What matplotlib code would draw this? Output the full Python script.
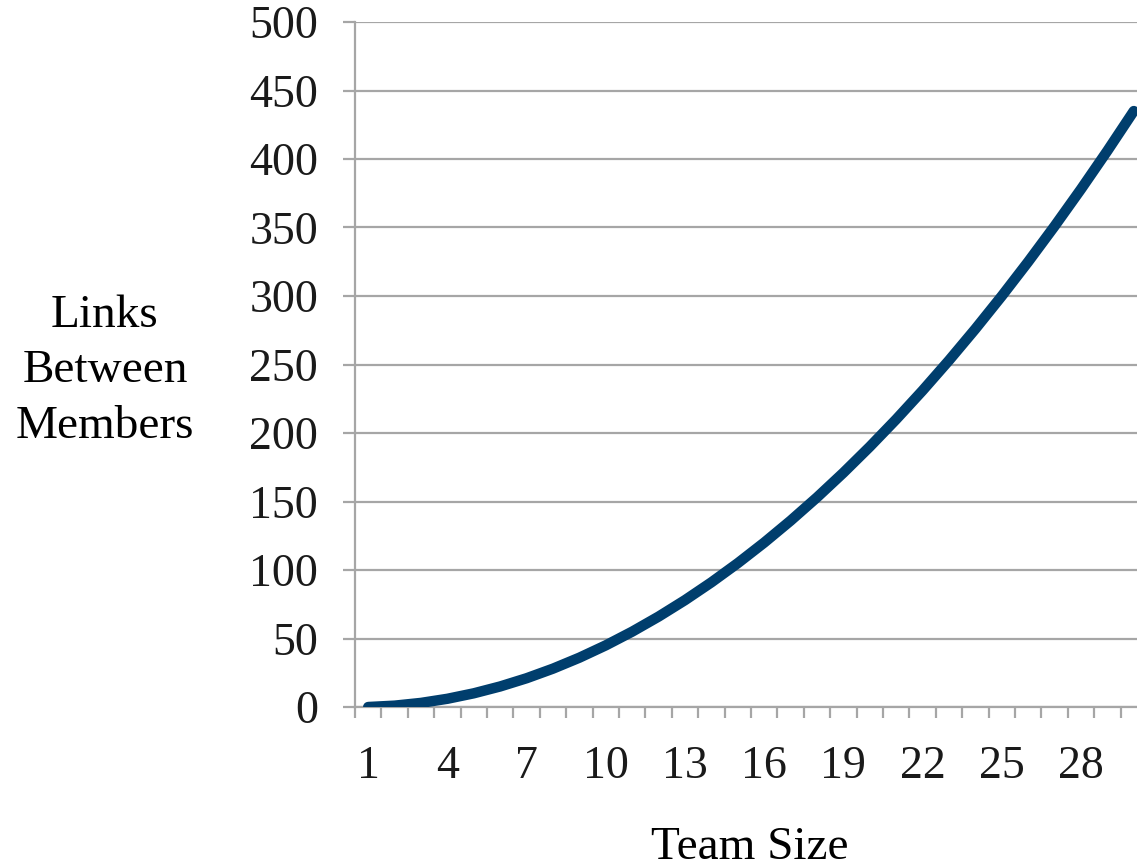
import matplotlib.pyplot as plt
from matplotlib.ticker import FixedLocator

# data
team_size = list(range(1, 31))
links = [0, 1, 3, 6, 10, 15, 21, 28, 36, 45,
         55, 66, 78, 91, 105, 120, 136, 153, 171, 190,
         210, 231, 253, 276, 300, 325, 351, 378, 406, 435]
x_labels = [1, 4, 7, 10, 13, 16, 19, 22, 25, 28]
y_ticks = [0, 50, 100, 150, 200, 250, 300, 350, 400, 450, 500]

plt.rcParams['font.family'] = ['Liberation Serif', 'DejaVu Serif']
GRID = '#a6a6a6'

fig = plt.figure(figsize=(11.37, 8.68), dpi=100)
ax = fig.add_axes([355 / 1137, 161 / 868, 792 / 1137, 685 / 868])

ax.plot(team_size, links, color='#003e6d', linewidth=7.5,
        solid_capstyle='round', solid_joinstyle='round', zorder=3)

ax.set_xlim(0.5, 30.5)
ax.set_ylim(0, 500)

# y axis
ax.set_yticks(y_ticks)
ax.set_yticklabels([str(v) for v in y_ticks], fontsize=33, color='#1a1a1a')
ax.yaxis.grid(True, color=GRID, linewidth=1.6)
ax.tick_params(axis='y', length=8.5, width=1.6, color=GRID, pad=18)

# x axis: ticks at category boundaries, labels at every third category
ax.xaxis.set_major_locator(FixedLocator([i + 0.5 for i in range(0, 31)]))
ax.set_xticklabels([])
ax.xaxis.set_minor_locator(FixedLocator(x_labels))
ax.set_xticklabels([str(v) for v in x_labels], minor=True, fontsize=33, color='#1a1a1a')
ax.tick_params(axis='x', which='major', length=8, width=1.6, color=GRID)
ax.tick_params(axis='x', which='minor', length=0, pad=28)

for s in ['top', 'right']:
    ax.spines[s].set_visible(False)
for s in ['left', 'bottom']:
    ax.spines[s].set_color(GRID)
    ax.spines[s].set_linewidth(1.6)
ax.set_axisbelow(True)

fig.text(750 / 1137, 1 - 848 / 868, 'Team Size', fontsize=34,
         ha='center', va='center')
fig.text(105 / 1137, 1 - 371 / 868, 'Links\nBetween\nMembers', fontsize=34,
         ha='center', va='center', linespacing=1.4)

fig.savefig('out.png', dpi=100)
